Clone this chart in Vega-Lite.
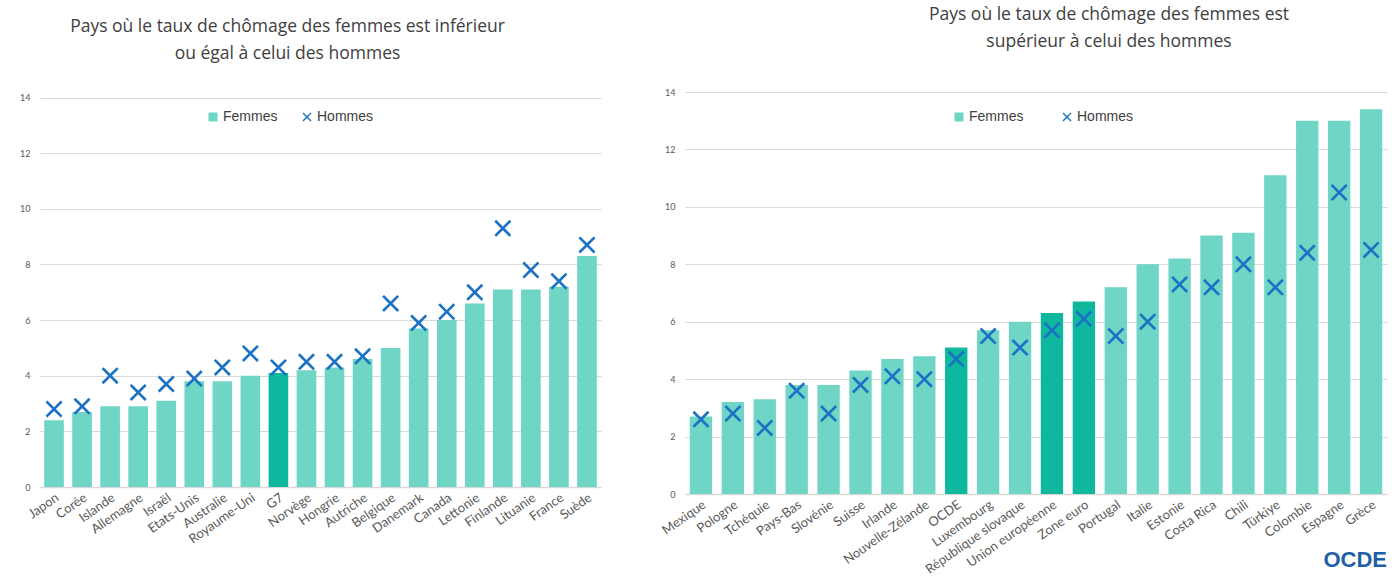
{
  "$schema": "https://vega.github.io/schema/vega-lite/v6.json",
  "background": "white",
  "padding": {"left": 19, "top": 5, "right": 5, "bottom": 0},
  "datasets": {
    "gauche": [
      {"pays": "Japon", "femmes": 2.4, "hommes": 2.8, "agg": false},
      {"pays": "Corée", "femmes": 2.7, "hommes": 2.9, "agg": false},
      {"pays": "Islande", "femmes": 2.9, "hommes": 4.0, "agg": false},
      {"pays": "Allemagne", "femmes": 2.9, "hommes": 3.4, "agg": false},
      {"pays": "Israël", "femmes": 3.1, "hommes": 3.7, "agg": false},
      {"pays": "Etats-Unis", "femmes": 3.8, "hommes": 3.9, "agg": false},
      {"pays": "Australie", "femmes": 3.8, "hommes": 4.3, "agg": false},
      {"pays": "Royaume-Uni", "femmes": 4.0, "hommes": 4.8, "agg": false},
      {"pays": "G7", "femmes": 4.1, "hommes": 4.3, "agg": true},
      {"pays": "Norvège", "femmes": 4.2, "hommes": 4.5, "agg": false},
      {"pays": "Hongrie", "femmes": 4.3, "hommes": 4.5, "agg": false},
      {"pays": "Autriche", "femmes": 4.6, "hommes": 4.7, "agg": false},
      {"pays": "Belgique", "femmes": 5.0, "hommes": 6.6, "agg": false},
      {"pays": "Danemark", "femmes": 5.7, "hommes": 5.9, "agg": false},
      {"pays": "Canada", "femmes": 6.0, "hommes": 6.3, "agg": false},
      {"pays": "Lettonie", "femmes": 6.6, "hommes": 7.0, "agg": false},
      {"pays": "Finlande", "femmes": 7.1, "hommes": 9.3, "agg": false},
      {"pays": "Lituanie", "femmes": 7.1, "hommes": 7.8, "agg": false},
      {"pays": "France", "femmes": 7.2, "hommes": 7.4, "agg": false},
      {"pays": "Suède", "femmes": 8.3, "hommes": 8.7, "agg": false}
    ],
    "droite": [
      {"pays": "Mexique", "femmes": 2.7, "hommes": 2.6, "agg": false},
      {"pays": "Pologne", "femmes": 3.2, "hommes": 2.8, "agg": false},
      {"pays": "Tchéquie", "femmes": 3.3, "hommes": 2.3, "agg": false},
      {"pays": "Pays-Bas", "femmes": 3.8, "hommes": 3.6, "agg": false},
      {"pays": "Slovénie", "femmes": 3.8, "hommes": 2.8, "agg": false},
      {"pays": "Suisse", "femmes": 4.3, "hommes": 3.8, "agg": false},
      {"pays": "Irlande", "femmes": 4.7, "hommes": 4.1, "agg": false},
      {"pays": "Nouvelle-Zélande", "femmes": 4.8, "hommes": 4.0, "agg": false},
      {"pays": "OCDE", "femmes": 5.1, "hommes": 4.7, "agg": true},
      {"pays": "Luxembourg", "femmes": 5.7, "hommes": 5.5, "agg": false},
      {"pays": "République slovaque", "femmes": 6.0, "hommes": 5.1, "agg": false},
      {"pays": "Union européenne", "femmes": 6.3, "hommes": 5.7, "agg": true},
      {"pays": "Zone euro", "femmes": 6.7, "hommes": 6.1, "agg": true},
      {"pays": "Portugal", "femmes": 7.2, "hommes": 5.5, "agg": false},
      {"pays": "Italie", "femmes": 8.0, "hommes": 6.0, "agg": false},
      {"pays": "Estonie", "femmes": 8.2, "hommes": 7.3, "agg": false},
      {"pays": "Costa Rica", "femmes": 9.0, "hommes": 7.2, "agg": false},
      {"pays": "Chili", "femmes": 9.1, "hommes": 8.0, "agg": false},
      {"pays": "Türkiye", "femmes": 11.1, "hommes": 7.2, "agg": false},
      {"pays": "Colombie", "femmes": 13.0, "hommes": 8.4, "agg": false},
      {"pays": "Espagne", "femmes": 13.0, "hommes": 10.5, "agg": false},
      {"pays": "Grèce", "femmes": 13.4, "hommes": 8.5, "agg": false}
    ]
  },
  "config": {
    "view": {"stroke": null},
    "font": "Lato",
    "axisX": {
      "title": null,
      "labelAngle": -35,
      "labelFontSize": 13,
      "labelColor": "#595959",
      "labelFont": "Lato",
      "ticks": false,
      "domainColor": "#d9d9d9",
      "domainWidth": 1.5,
      "labelPadding": 4,
      "grid": false
    },
    "axisY": {
      "title": null,
      "labelFontSize": 9,
      "labelColor": "#595959",
      "labelFont": "Lato",
      "ticks": false,
      "domain": false,
      "grid": true,
      "gridColor": "#d9d9d9",
      "gridWidth": 1,
      "labelPadding": 10
    },
    "legend": {
      "orient": "none",
      "direction": "horizontal",
      "title": null,
      "labelFont": "Liberation Sans",
      "labelFontSize": 14,
      "labelColor": "#404040",
      "symbolSize": 81,
      "symbolStrokeWidth": 0,
      "labelOffset": 3
    },
    "title": {
      "font": "Open Sans",
      "fontSize": 17.5,
      "fontWeight": "normal",
      "color": "#404040",
      "lineHeight": 27,
      "anchor": "middle"
    }
  },
  "title": {
    "text": "OCDE",
    "orient": "bottom",
    "anchor": "end",
    "fontSize": 22,
    "fontWeight": "bold",
    "font": "Liberation Sans",
    "color": "#1f5fa6",
    "offset": -26
  },
  "spacing": 58,
  "resolve": {
    "scale": {"x": "independent", "y": "independent", "color": "independent", "shape": "independent"},
    "legend": {"color": "independent", "shape": "independent"}
  },
  "hconcat": [
    {
      "width": 561,
      "height": 395,
      "title": {"text": ["Pays où le taux de chômage des femmes est inférieur", "ou égal à celui des hommes"], "offset": 30, "dx": -33},
      "data": {"name": "gauche"},
      "layer": [
        {
          "mark": {"type": "bar"},
          "encoding": {
            "x": {"field": "pays", "type": "nominal", "sort": null, "scale": {"paddingInner": 0.3}},
            "y": {"field": "femmes", "type": "quantitative", "title": null, "scale": {"domain": [0, 14.2], "nice": false}, "axis": {"values": [0, 2, 4, 6, 8, 10, 12, 14]}},
            "color": {
              "condition": {"test": "datum.agg", "value": "#0db89e"},
              "datum": "Femmes",
              "scale": {"domain": ["Femmes", "Hommes"], "range": ["#6fd6c5", "#1b72c4"]},
              "legend": {"legendX": 166, "legendY": 18, "columnPadding": 22}
            }
          }
        },
        {
          "mark": {"type": "point", "filled": true, "size": 289, "opacity": 1},
          "encoding": {
            "x": {"field": "pays", "type": "nominal", "sort": null},
            "y": {"field": "hommes", "type": "quantitative", "title": null},
            "color": {"datum": "Hommes"},
            "shape": {
              "datum": "Hommes",
              "scale": {"domain": ["Femmes", "Hommes"], "range": ["square", "M-0.78,-1L0,-0.22L0.78,-1L1,-0.78L0.22,0L1,0.78L0.78,1L0,0.22L-0.78,1L-1,0.78L-0.22,0L-1,-0.78Z"]}
            }
          }
        }
      ]
    },
    {
      "width": 702,
      "height": 402,
      "title": {"text": ["Pays où le taux de chômage des femmes est", "supérieur à celui des hommes"], "offset": 38, "dx": 73},
      "data": {"name": "droite"},
      "layer": [
        {
          "mark": {"type": "bar"},
          "encoding": {
            "x": {"field": "pays", "type": "nominal", "sort": null, "scale": {"paddingInner": 0.3}},
            "y": {"field": "femmes", "type": "quantitative", "title": null, "scale": {"domain": [0, 14], "nice": false}, "axis": {"values": [0, 2, 4, 6, 8, 10, 12, 14]}},
            "color": {
              "condition": {"test": "datum.agg", "value": "#0db89e"},
              "datum": "Femmes",
              "scale": {"domain": ["Femmes", "Hommes"], "range": ["#6fd6c5", "#1b72c4"]},
              "legend": {"legendX": 267, "legendY": 18, "columnPadding": 36}
            }
          }
        },
        {
          "mark": {"type": "point", "filled": true, "size": 289, "opacity": 1},
          "encoding": {
            "x": {"field": "pays", "type": "nominal", "sort": null},
            "y": {"field": "hommes", "type": "quantitative", "title": null},
            "color": {"datum": "Hommes"},
            "shape": {
              "datum": "Hommes",
              "scale": {"domain": ["Femmes", "Hommes"], "range": ["square", "M-0.78,-1L0,-0.22L0.78,-1L1,-0.78L0.22,0L1,0.78L0.78,1L0,0.22L-0.78,1L-1,0.78L-0.22,0L-1,-0.78Z"]}
            }
          }
        }
      ]
    }
  ]
}
